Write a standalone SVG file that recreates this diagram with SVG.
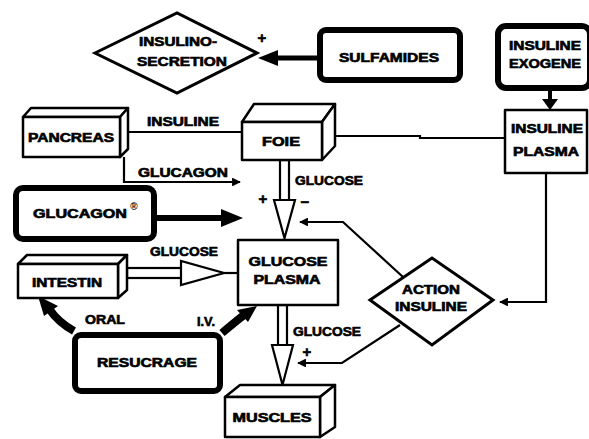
<svg xmlns="http://www.w3.org/2000/svg" width="589" height="439" viewBox="0 0 589 439">
<style>
.t{font-family:"Liberation Sans",Arial,sans-serif;font-weight:bold;font-size:12px;text-anchor:middle;fill:#000;stroke:#000;stroke-width:0.6}
.s{font-size:10px;stroke:none}
.p{font-size:15px}
.box{fill:#fff;stroke:#000;stroke-width:2.5;stroke-linejoin:round}
.thick{fill:#fff;stroke:#000;stroke-width:6}
.ln{fill:none;stroke:#000;stroke-width:2.2}
.hol{fill:#fff;stroke:#000;stroke-width:2.2;stroke-linejoin:miter}
.band{fill:none;stroke:#000;stroke-width:8}
</style>
<defs>
<marker id="ah" viewBox="0 0 10 10" refX="9" refY="5" markerWidth="4" markerHeight="4" orient="auto">
<path d="M0,0 L10,5 L0,10 z" fill="#000"/>
</marker>
</defs>
<rect width="589" height="439" fill="#fff"/>

<g id="connectors">
<line class="ln" x1="317" y1="58" x2="275" y2="58" style="stroke-width:5"/>
<polygon points="258,58 278,50 278,66" fill="#000"/>
<line class="ln" x1="550" y1="90" x2="550" y2="100" style="stroke-width:4"/>
<polygon points="542,99 558,99 550,110" fill="#000"/>
<line class="ln" x1="128" y1="132" x2="242" y2="132"/>
<polyline class="ln" points="124,157 124,182 240,182" marker-end="url(#ah)"/>
<polyline class="ln" points="335,136 420,136 420,138 505,138"/>
<polyline class="ln" points="546,173 546,302 500,302" marker-end="url(#ah)"/>
<polyline class="ln" points="403,277 343,222 300,222" marker-end="url(#ah)"/>
<polyline class="ln" points="400,325 342,363 298,363" marker-end="url(#ah)"/>
<rect x="280" y="160" width="9" height="42" class="hol"/>
<polygon class="hol" points="274,200 295,200 284.5,238"/>
<rect x="278" y="305" width="9" height="42" class="hol"/>
<polygon class="hol" points="272,345 293,345 282.5,385"/>
<rect x="127" y="268" width="56" height="10" class="hol"/>
<polygon class="hol" points="181,261 181,285 224,273"/>
<line class="ln" x1="224" y1="273" x2="238" y2="273"/>
<line x1="157" y1="218" x2="225" y2="218" stroke="#000" stroke-width="6"/>
<polygon points="221,209 243,218 221,227" fill="#000"/>
<path class="band" d="M74,331 Q58,322 50,310"/>
<polygon points="38,296 58,306 44,316" fill="#000"/>
<path class="band" d="M222,333 Q235,322 244,315"/>
<polygon points="257,306 248,322 237,310" fill="#000"/>
</g>

<g id="secretion">
<polygon points="95,53 177,13 257,53 177,93" fill="#fff" stroke="#000" stroke-width="3"/>
<text class="t" x="178" y="46" textLength="78" lengthAdjust="spacingAndGlyphs">INSULINO-</text>
<text class="t" x="182" y="66" textLength="90" lengthAdjust="spacingAndGlyphs">SECRETION</text>
<text class="t p" x="262" y="43">+</text>
</g>

<g id="sulfamides">
<rect x="320" y="30" width="140" height="50" rx="6" class="thick"/>
<text class="t" x="389" y="62" textLength="100" lengthAdjust="spacingAndGlyphs">SULFAMIDES</text>
</g>

<g id="exogene">
<rect x="498" y="26" width="92" height="62" rx="8" class="thick"/>
<text class="t" x="545" y="50" textLength="72" lengthAdjust="spacingAndGlyphs">INSULINE</text>
<text class="t" x="545" y="68" textLength="72" lengthAdjust="spacingAndGlyphs">EXOGENE</text>
</g>

<g id="insuline-plasma">
<rect x="505" y="110" width="82" height="63" class="box"/>
<text class="t" x="547" y="133" textLength="72" lengthAdjust="spacingAndGlyphs">INSULINE</text>
<text class="t" x="546" y="156" textLength="66" lengthAdjust="spacingAndGlyphs">PLASMA</text>
</g>

<g id="pancreas">
<polygon class="box" points="23,117 31,108 128,108 120,117"/>
<polygon class="box" points="120,117 128,108 128,149 120,157"/>
<rect x="23" y="117" width="97" height="40" class="box"/>
<text class="t" x="71" y="142" textLength="86" lengthAdjust="spacingAndGlyphs">PANCREAS</text>
</g>

<g id="foie">
<polygon class="box" points="242,122 254,104 335,104 322,122"/>
<polygon class="box" points="322,122 335,104 335,146 322,160"/>
<rect x="242" y="122" width="80" height="38" class="box"/>
<text class="t" x="281" y="146" textLength="38" lengthAdjust="spacingAndGlyphs">FOIE</text>
</g>

<g id="labels">
<text class="t" x="183" y="126" textLength="72" lengthAdjust="spacingAndGlyphs">INSULINE</text>
<text class="t" x="183" y="177" textLength="90" lengthAdjust="spacingAndGlyphs">GLUCAGON</text>
<text class="t" x="329" y="185" textLength="68" lengthAdjust="spacingAndGlyphs">GLUCOSE</text>
<text class="t p" x="263" y="204">+</text>
<text class="t p" x="305" y="207">−</text>
<text class="t" x="184" y="256" textLength="68" lengthAdjust="spacingAndGlyphs">GLUCOSE</text>
<text class="t" x="327" y="336" textLength="68" lengthAdjust="spacingAndGlyphs">GLUCOSE</text>
<text class="t p" x="307" y="357">+</text>
<text class="t" x="105" y="324" textLength="40" lengthAdjust="spacingAndGlyphs">ORAL</text>
<text class="t" x="206" y="326" textLength="18" lengthAdjust="spacingAndGlyphs">I.V.</text>
</g>

<g id="glucagon-drug">
<rect x="16" y="188" width="138" height="51" rx="7" class="thick"/>
<text class="t" x="80" y="218" textLength="94" lengthAdjust="spacingAndGlyphs">GLUCAGON</text>
<text class="t s" x="134" y="210">®</text>
</g>

<g id="intestin">
<polygon class="box" points="18,264 27,255 127,255 118,264"/>
<polygon class="box" points="118,264 127,255 127,290 118,298"/>
<rect x="18" y="264" width="100" height="34" class="box"/>
<text class="t" x="67" y="287" textLength="70" lengthAdjust="spacingAndGlyphs">INTESTIN</text>
</g>

<g id="glucose-plasma">
<rect x="238" y="240" width="100" height="65" class="box"/>
<text class="t" x="288" y="266" textLength="79" lengthAdjust="spacingAndGlyphs">GLUCOSE</text>
<text class="t" x="287" y="284" textLength="67" lengthAdjust="spacingAndGlyphs">PLASMA</text>
</g>

<g id="action">
<polygon points="370,300 432,258 493,300 432,345" fill="#fff" stroke="#000" stroke-width="3"/>
<text class="t" x="431" y="294" textLength="58" lengthAdjust="spacingAndGlyphs">ACTION</text>
<text class="t" x="431" y="311" textLength="72" lengthAdjust="spacingAndGlyphs">INSULINE</text>
</g>

<g id="resucrage">
<rect x="75" y="335" width="145" height="56" rx="6" class="thick"/>
<text class="t" x="147" y="367" textLength="100" lengthAdjust="spacingAndGlyphs">RESUCRAGE</text>
</g>

<g id="muscles">
<polygon class="box" points="225,397 240,385 335,385 320,397"/>
<polygon class="box" points="320,397 335,385 335,427 320,437"/>
<rect x="225" y="397" width="95" height="40" class="box"/>
<text class="t" x="272" y="422" textLength="79" lengthAdjust="spacingAndGlyphs">MUSCLES</text>
</g>
</svg>
